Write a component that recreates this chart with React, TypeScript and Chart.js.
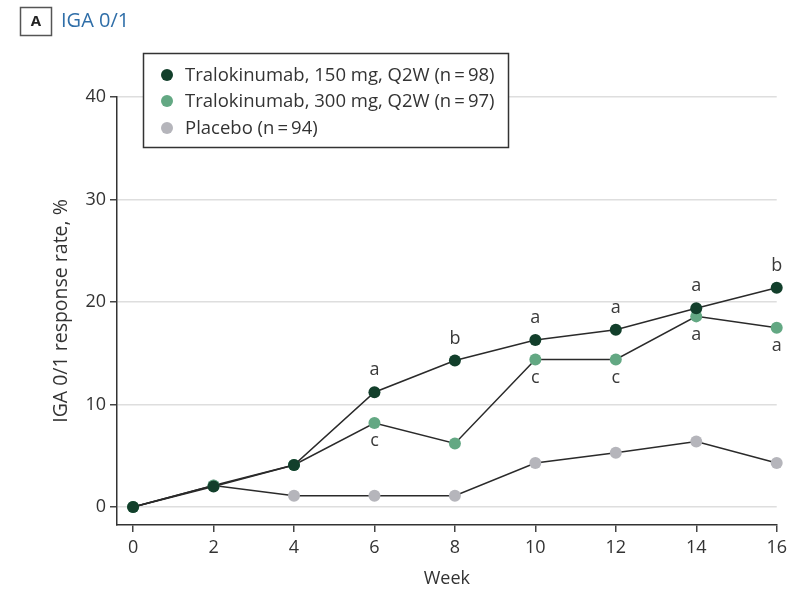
import React, { useEffect, useRef } from "react";
import { Chart, registerables } from "chart.js";

Chart.register(...registerables);

const weeks = [0, 2, 4, 6, 8, 10, 12, 14, 16];
const yTicks = [0, 10, 20, 30, 40];
const tralo150 = [0, 2.0, 4.1, 11.2, 14.3, 16.3, 17.3, 19.4, 21.4];
const tralo300 = [0, 2.1, 4.1, 8.2, 6.2, 14.4, 14.4, 18.6, 17.5];
const placebo = [0, 2.1, 1.1, 1.1, 1.1, 4.3, 5.3, 6.4, 4.3];
const notes150 = ["", "", "", "a", "b", "a", "a", "a", "b"];
const notes300 = ["", "", "", "c", "", "c", "c", "a", "a"];
const seriesNames = [
  "Tralokinumab, 150 mg, Q2W (n\u2009=\u200998)",
  "Tralokinumab, 300 mg, Q2W (n\u2009=\u200997)",
  "Placebo (n\u2009=\u200994)",
];
const seriesColors = ["#123f2b", "#63a883", "#b5b5bb"];
const panelLetter = "A";
const panelTitle = "IGA 0/1";
const yTitle = "IGA 0/1 response rate, %";
const xTitle = "Week";

const FONT = "'Open Sans', 'Noto Sans', sans-serif";
const TEXT = "#333333";

export default function App() {
  const ref = useRef<HTMLCanvasElement>(null);
  useEffect(() => {
    document.body.style.margin = "0";
    const canvas = ref.current!;
    const mk = (vals: number[]) => weeks.map((w, i) => ({ x: w, y: vals[i] }));
    const extras = {
      id: "extras",
      afterDatasetsDraw(chart: any) {
        const ctx = chart.ctx;
        ctx.save();
        ctx.fillStyle = "#3a3a3a";
        ctx.font = `18px ${FONT}`;
        ctx.textAlign = "center";
        ctx.textBaseline = "middle";
        const sets: [number, string[], number][] = [
          [0, notes150, -22],
          [1, notes300, 18],
        ];
        sets.forEach(([idx, notes, off]) => {
          const meta = chart.getDatasetMeta(idx);
          meta.data.forEach((pt: any, j: number) => {
            if (notes[j]) ctx.fillText(notes[j], pt.x, pt.y + off);
          });
        });
        ctx.restore();
      },
      afterDraw(chart: any) {
        const ctx = chart.ctx;
        ctx.save();
        // panel header
        ctx.strokeStyle = "#555";
        ctx.lineWidth = 1.5;
        ctx.strokeRect(20.5, 7.5, 31, 28);
        ctx.fillStyle = "#222";
        ctx.font = `bold 15px ${FONT}`;
        ctx.textAlign = "center";
        ctx.textBaseline = "middle";
        ctx.fillText(panelLetter, 36, 22);
        ctx.fillStyle = "#2f6ea8";
        ctx.font = `20px ${FONT}`;
        ctx.textAlign = "left";
        ctx.fillText(panelTitle, 61, 21);
        // legend
        ctx.fillStyle = "#fff";
        ctx.fillRect(143.5, 53.5, 365, 94);
        ctx.strokeStyle = "#333";
        ctx.lineWidth = 1.5;
        ctx.strokeRect(143.5, 53.5, 365, 94);
        const rows = [75, 101, 128];
        ctx.font = `18.5px ${FONT}`;
        ctx.textBaseline = "middle";
        seriesNames.forEach((name, i) => {
          ctx.fillStyle = seriesColors[i];
          ctx.beginPath();
          ctx.arc(167, rows[i], 6, 0, Math.PI * 2);
          ctx.fill();
          ctx.fillStyle = TEXT;
          ctx.fillText(name, 185, rows[i] + 1);
        });
        ctx.restore();
      },
    };
    const ds = (vals: number[], i: number) => ({
      label: seriesNames[i],
      data: mk(vals),
      borderColor: "#2a2a2a",
      borderWidth: 1.5,
      pointRadius: 6,
      pointBackgroundColor: seriesColors[i],
      pointBorderColor: seriesColors[i],
      pointBorderWidth: 0,
      tension: 0,
      clip: false as any,
    });
    const chart = new Chart(canvas, {
      type: "line",
      data: { datasets: [ds(tralo150, 0), ds(tralo300, 1), ds(placebo, 2)] as any },
      options: {
        animation: false,
        responsive: false,
        layout: { padding: { left: 44, top: 97, right: 15, bottom: 0 } },
        plugins: { legend: { display: false }, tooltip: { enabled: false } },
        scales: {
          x: {
            type: "linear",
            min: -0.4,
            max: 16,
            afterBuildTicks: (s: any) => {
              s.ticks = weeks.map((v) => ({ value: v }));
            },
            afterFit: (s: any) => {
              s.height = 70;
            },
            grid: { drawOnChartArea: false, drawTicks: true, tickLength: 7, color: "#444", lineWidth: 1.5 },
            border: { display: true, color: "#333", width: 1.5 },
            ticks: { color: TEXT, font: { family: FONT, size: 18 }, padding: 5, maxRotation: 0 },
            title: { display: true, text: xTitle, color: TEXT, font: { family: FONT, size: 18 }, padding: { top: 0, bottom: 5 } },
          },
          y: {
            type: "linear",
            min: -1.75,
            max: 40,
            afterBuildTicks: (s: any) => {
              s.ticks = yTicks.map((v) => ({ value: v }));
            },
            afterFit: (s: any) => {
              s.width = 73;
            },
            grid: { drawOnChartArea: true, drawTicks: true, tickLength: 7, color: "#dedede", tickColor: "#444", lineWidth: 1.5 },
            border: { display: true, color: "#333", width: 1.5 },
            ticks: { color: TEXT, font: { family: FONT, size: 18 }, padding: 4 },
            title: { display: true, text: yTitle, color: TEXT, font: { family: FONT, size: 19.5 }, padding: { top: 6, bottom: 0 } },
          },
        },
      },
      plugins: [extras],
    });
    return () => chart.destroy();
  }, []);
  return <canvas ref={ref} width={792} height={595} />;
}
